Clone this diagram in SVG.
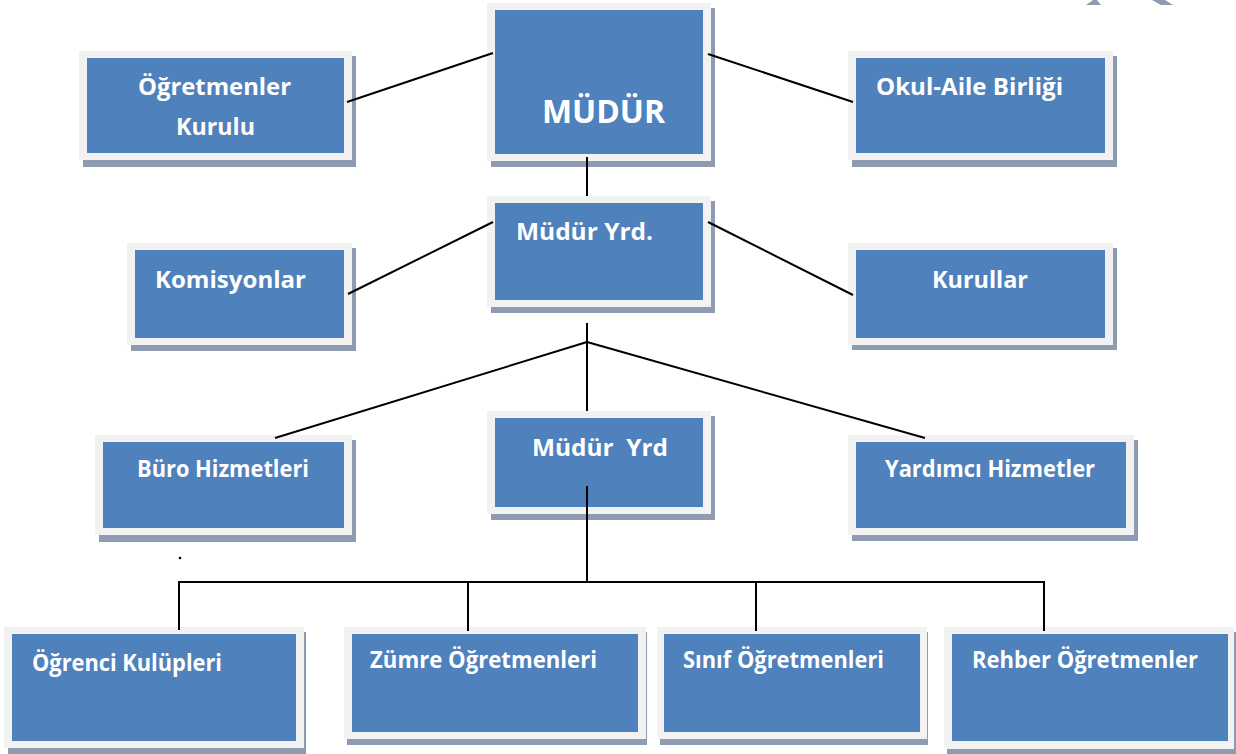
<svg xmlns="http://www.w3.org/2000/svg" width="1236" height="754" viewBox="0 0 1236 754">
<style>
.sh{fill:#8e9cb1}
.fr{fill:#f2f2f2}
.bx{fill:#4f81bd}
.t{font-family:"Open Sans","Liberation Sans",sans-serif;font-weight:bold;font-size:24px;fill:#ffffff}
.tb{font-size:23px}
.big{font-size:32px}
.c{stroke:#000000;stroke-width:2;fill:none}
</style>
<rect width="1236" height="754" fill="#ffffff"/>
<polygon points="1086,5 1093,0 1097,0 1101,5" fill="#8e9cb1"/>
<polygon points="1152,0 1165,0 1173,5 1161,5" fill="#8e9cb1"/>
<circle cx="180" cy="558" r="1.3" fill="#000000"/>

<g id="ogretmenler-kurulu">
<rect class="sh" x="83" y="56" width="273" height="111"/>
<rect class="fr" x="79" y="51" width="273" height="109"/>
<rect class="bx" x="87" y="58" width="257" height="95"/>
<text class="t" x="138" y="95" textLength="153" lengthAdjust="spacingAndGlyphs">Öğretmenler</text>
<text class="t" x="176" y="135" textLength="79" lengthAdjust="spacingAndGlyphs">Kurulu</text>
</g>
<g id="mudur">
<rect class="sh" x="491" y="8" width="224" height="159"/>
<rect class="fr" x="487" y="3" width="224" height="158"/>
<rect class="bx" x="495" y="10" width="208" height="144"/>
<text class="t big" x="542" y="123" textLength="123" lengthAdjust="spacingAndGlyphs">MÜDÜR</text>
</g>
<g id="okul-aile-birligi">
<rect class="sh" x="852" y="56" width="265" height="111"/>
<rect class="fr" x="848" y="51" width="265" height="109"/>
<rect class="bx" x="856" y="58" width="249" height="95"/>
<text class="t" x="876" y="95" textLength="187" lengthAdjust="spacingAndGlyphs">Okul-Aile Birliği</text>
</g>
<g id="mudur-yrd-1">
<rect class="sh" x="491" y="201" width="224" height="112"/>
<rect class="fr" x="487" y="196" width="224" height="111"/>
<rect class="bx" x="495" y="203" width="208" height="97"/>
<text class="t" x="516" y="240" textLength="137" lengthAdjust="spacingAndGlyphs">Müdür Yrd.</text>
</g>
<g id="komisyonlar">
<rect class="sh" x="131" y="248" width="225" height="103"/>
<rect class="fr" x="127" y="243" width="225" height="102"/>
<rect class="bx" x="135" y="250" width="209" height="88"/>
<text class="t" x="155" y="288" textLength="151" lengthAdjust="spacingAndGlyphs">Komisyonlar</text>
</g>
<g id="kurullar">
<rect class="sh" x="852" y="248" width="265" height="102"/>
<rect class="fr" x="848" y="243" width="265" height="102"/>
<rect class="bx" x="856" y="250" width="249" height="88"/>
<text class="t" x="932" y="288" textLength="96" lengthAdjust="spacingAndGlyphs">Kurullar</text>
</g>
<g id="buro-hizmetleri">
<rect class="sh" x="99" y="440" width="257" height="102"/>
<rect class="fr" x="95" y="435" width="257" height="100"/>
<rect class="bx" x="103" y="442" width="241" height="86"/>
<text class="t" x="137" y="477" textLength="172" lengthAdjust="spacingAndGlyphs">Büro Hizmetleri</text>
</g>
<g id="mudur-yrd-2">
<rect class="sh" x="491" y="416" width="224" height="104"/>
<rect class="fr" x="487" y="411" width="224" height="103"/>
<rect class="bx" x="495" y="418" width="208" height="89"/>
<text class="t" x="532" y="456" textLength="136" lengthAdjust="spacingAndGlyphs" xml:space="preserve" style="white-space:pre">Müdür  Yrd</text>
</g>
<g id="yardimci-hizmetler">
<rect class="sh" x="852" y="440" width="286" height="101"/>
<rect class="fr" x="848" y="435" width="286" height="100"/>
<rect class="bx" x="856" y="442" width="270" height="86"/>
<text class="t" x="885" y="477" textLength="210" lengthAdjust="spacingAndGlyphs">Yardımcı Hizmetler</text>
</g>
<g id="ogrenci-kulupleri">
<rect class="sh" x="8" y="632" width="298" height="122"/>
<rect class="fr" x="4" y="627" width="300" height="121"/>
<rect class="bx" x="12" y="634" width="284" height="107"/>
<text class="t tb" x="32" y="671" textLength="190" lengthAdjust="spacingAndGlyphs">Öğrenci Kulüpleri</text>
</g>
<g id="zumre-ogretmenleri">
<rect class="sh" x="347" y="632" width="300" height="113"/>
<rect class="fr" x="344" y="627" width="302" height="112"/>
<rect class="bx" x="352" y="634" width="286" height="98"/>
<text class="t tb" x="370" y="668" textLength="227" lengthAdjust="spacingAndGlyphs">Zümre Öğretmenleri</text>
</g>
<g id="sinif-ogretmenleri">
<rect class="sh" x="660" y="632" width="268" height="113"/>
<rect class="fr" x="657" y="627" width="270" height="112"/>
<rect class="bx" x="664" y="634" width="256" height="98"/>
<text class="t tb" x="683" y="668" textLength="201" lengthAdjust="spacingAndGlyphs">Sınıf Öğretmenleri</text>
</g>
<g id="rehber-ogretmenler">
<rect class="sh" x="947" y="632" width="289" height="122"/>
<rect class="fr" x="944" y="627" width="290" height="122"/>
<rect class="bx" x="952" y="634" width="276" height="107"/>
<text class="t tb" x="972" y="668" textLength="226" lengthAdjust="spacingAndGlyphs">Rehber Öğretmenler</text>
</g>

<g id="connectors" class="c">
<line class="c" x1="347" y1="102" x2="493" y2="53"/>
<line class="c" x1="708" y1="54" x2="853" y2="102"/>
<line class="c" x1="587" y1="157" x2="587" y2="196"/>
<line class="c" x1="493" y1="222" x2="348" y2="294"/>
<line class="c" x1="708" y1="222" x2="853" y2="295"/>
<line class="c" x1="587" y1="323" x2="587" y2="411"/>
<line class="c" x1="587" y1="342" x2="275" y2="438"/>
<line class="c" x1="587" y1="342" x2="925" y2="438"/>
<line class="c" x1="587" y1="486" x2="587" y2="582"/>
<polyline class="c" points="179,630 179,582 1044,582 1044,631"/>
<line class="c" x1="468" y1="582" x2="468" y2="631"/>
<line class="c" x1="756" y1="582" x2="756" y2="631"/>
</g>
</svg>
